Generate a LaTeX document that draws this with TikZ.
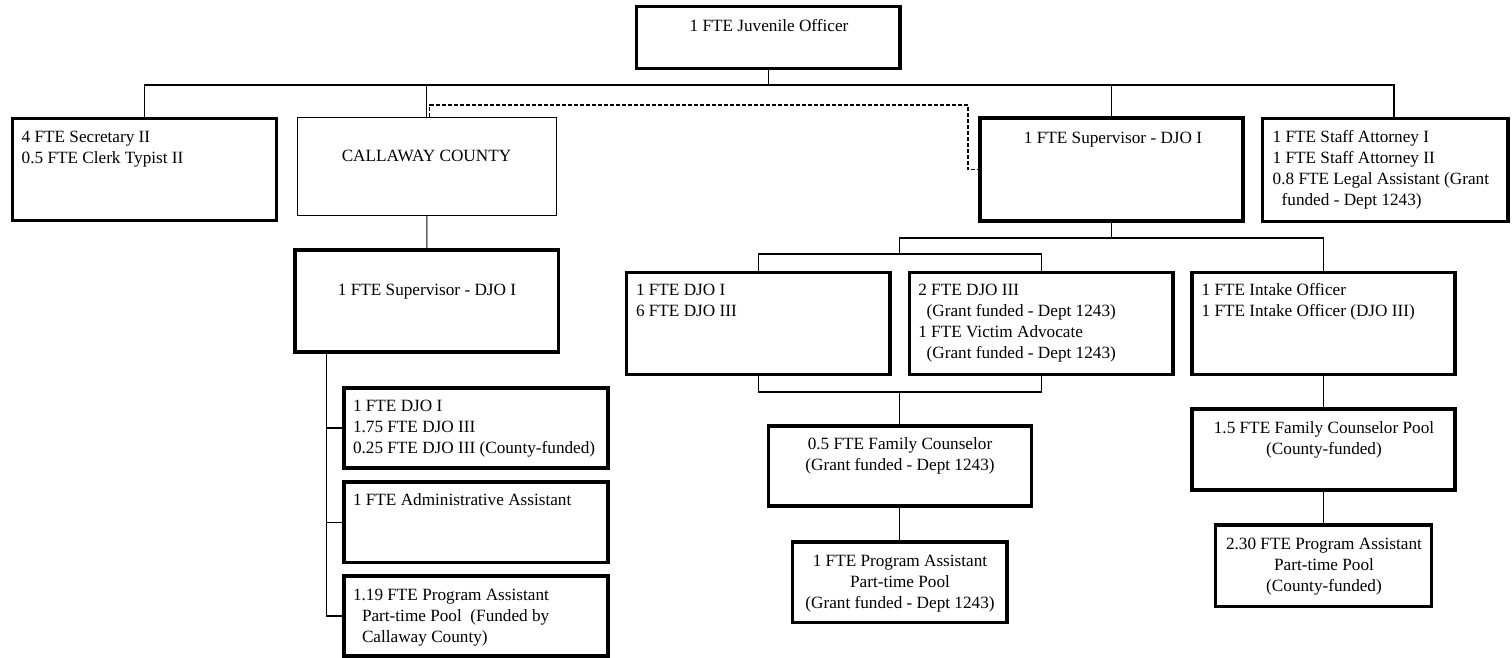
\documentclass[tikz,border=0pt]{standalone}
\usepackage{fontspec}
\setmainfont{Liberation Serif}
\begin{document}
\begin{tikzpicture}[x={(1pt,0)},y={(0,-1pt)},
  box/.style={draw,line width=3.3pt,outer sep=0pt,inner sep=0pt,rectangle},
  thinbox/.style={draw,line width=1.1pt,outer sep=0pt,inner sep=0pt,rectangle},
  txt/.style={font=\fontsize{17.2}{21}\selectfont,inner sep=0pt,outer sep=0pt},
  tl/.style={txt,anchor=north west,align=left},
  tc/.style={txt,anchor=north,align=center},
  conn/.style={line width=1.1pt},
  dconn/.style={line width=1.1pt,dash pattern=on 4pt off 2pt}]
\useasboundingbox (0,0) rectangle (1512,657);
% boxes
\node[box,minimum width=263.3pt,minimum height=61.6pt] (jo) at (768.35,37.5) {};
\node[box,minimum width=264pt,minimum height=102.4pt] (sec) at (144.7,169.5) {};
\node[thinbox,minimum width=259.4pt,minimum height=98.4pt] (cal) at (426.8,166.5) {};
\node[box,minimum width=263pt,minimum height=103pt] (rs) at (1111.5,169.5) {};
\node[box,minimum width=245.3pt,minimum height=103pt] (staff) at (1385.35,170) {};
\node[box,minimum width=263.7pt,minimum height=102pt] (ls) at (426.85,301) {};
\node[box,minimum width=264pt,minimum height=80pt] (bA) at (476,428) {};
\node[box,minimum width=264pt,minimum height=80.7pt] (bB) at (476,522.35) {};
\node[box,minimum width=264pt,minimum height=80pt] (bC) at (476,616) {};
\node[box,minimum width=263.3pt,minimum height=102pt] (dj1) at (758.35,323.3) {};
\node[box,minimum width=263.7pt,minimum height=102pt] (dj3) at (1041.15,323.3) {};
\node[box,minimum width=263pt,minimum height=102pt] (intake) at (1323.5,323.3) {};
\node[box,minimum width=263pt,minimum height=80pt] (fc) at (899.7,466) {};
\node[box,minimum width=214.8pt,minimum height=80.7pt] (pa) at (899.7,582.35) {};
\node[box,minimum width=263pt,minimum height=81pt] (fcp) at (1323.5,449.5) {};
\node[box,minimum width=216pt,minimum height=81.7pt] (pa2) at (1323.5,565.85) {};
% texts
\node[tc] (tjo) at (769,17) {\strut 1 FTE Juvenile Officer};
\node[tl] (tsec) at (21.7,128) {\strut 4 FTE Secretary II\\0.5 FTE Clerk Typist II};
\node[tc] (tcal) at (426.5,146.3) {\strut CALLAWAY COUNTY};
\node[tc] (trs) at (1113,128.3) {\strut 1 FTE Supervisor - DJO I};
\node[tl] (tstaff) at (1272.7,128) {\strut 1 FTE Staff Attorney I\\1 FTE Staff Attorney II\\0.8 FTE Legal Assistant (Grant\\\hspace*{9pt}funded - Dept 1243)};
\node[tc] (tls) at (427,280.8) {\strut 1 FTE Supervisor - DJO I};
\node[tl] (tdj1) at (636,280.3) {\strut 1 FTE DJO I\\6 FTE DJO III};
\node[tl] (tdj3) at (918.3,280.3) {\strut 2 FTE DJO III\\\hspace*{8.4pt}(Grant funded - Dept 1243)\\1 FTE Victim Advocate\\\hspace*{8.4pt}(Grant funded - Dept 1243)};
\node[tl] (tint) at (1201.6,280.3) {\strut 1 FTE Intake Officer\\1 FTE Intake Officer (DJO III)};
\node[tl] (tbA) at (353,396.3) {\strut 1 FTE DJO I\\1.75 FTE DJO III\\0.25 FTE DJO III (County-funded)};
\node[tl] (tbB) at (353,490.3) {\strut 1 FTE Administrative Assistant};
\node[tl] (tbC) at (353,585.3) {\strut 1.19 FTE Program Assistant\\\hspace*{9pt}Part-time Pool\ \ (Funded by\\\hspace*{9pt}Callaway County)};
\node[tc] (tfc) at (900,434.8) {\strut 0.5 FTE Family Counselor\\(Grant funded - Dept 1243)};
\node[tc] (tpa) at (900,551.3) {\strut 1 FTE Program Assistant\\Part-time Pool\\(Grant funded - Dept 1243)};
\node[tc] (tfcp) at (1324,418.8) {\strut 1.5 FTE Family Counselor Pool\\(County-funded)};
\node[tc] (tpa2) at (1324,534.8) {\strut 2.30 FTE Program Assistant\\Part-time Pool\\(County-funded)};
% junction coordinates
\coordinate (bus) at (768.35,85);
\coordinate (staffdrop) at (1394,118.5);
\coordinate (dk) at (968,105);
\coordinate (lsv) at (326.7,352);
\coordinate (j2) at (899.7,238);
\coordinate (j3) at (899.7,254);
\coordinate (j4) at (899.7,392);
% connectors
\draw[conn] (jo.south) -- (bus);
\draw[conn] (sec.north) |- (bus);
\draw[conn] (cal.north) -- (cal.north |- bus);
\draw[conn] (rs.north) -- (rs.north |- bus);
\draw[conn] (staffdrop) |- (bus);
\draw[dconn] ([xshift=3pt]cal.north) |- (dk) |- (rs.west);
\draw[conn] (cal.south) -- (ls.north);
\draw[conn] (lsv) |- (bA.west);
\draw[conn] (lsv) |- (bB.west);
\draw[conn] (lsv) |- (bC.west);
\draw[conn] (rs.south) |- (j2) -- (j3);
\draw[conn] (rs.south |- j2) -| (intake.north);
\draw[conn] (dj1.north) |- (j3) -| (dj3.north);
\draw[conn] (dj1.south) |- (j4) -| (dj3.south);
\draw[conn] (j4) -- (fc.north);
\draw[conn] (fc.south) -- (pa.north);
\draw[conn] (intake.south) -- (fcp.north);
\draw[conn] (fcp.south) -- (pa2.north);
\end{tikzpicture}
\end{document}
